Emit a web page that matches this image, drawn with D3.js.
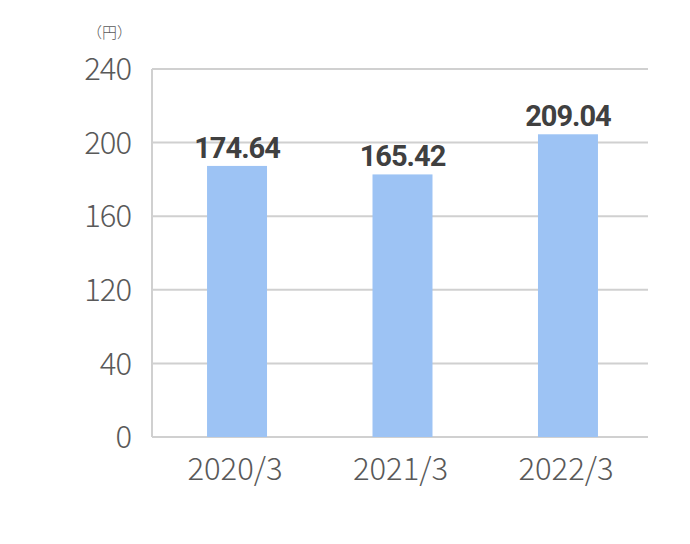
<!DOCTYPE html>
<html>
<head>
<meta charset="utf-8">
<script src="https://cdn.jsdelivr.net/npm/d3@7"></script>
<style>
  body { margin: 0; background: #fff; }
  .tick-label { font-family: "Noto Sans CJK JP", "Noto Sans", sans-serif; font-weight: 300; fill: #595959; }
  .value-label { font-family: Roboto, "Noto Sans", sans-serif; font-weight: 700; fill: #404040; }
</style>
</head>
<body>
<svg id="chart" width="690" height="544"></svg>
<script>
// chart data
let years = ["2020/3", "2021/3", "2022/3"]
let values = [174.64, 165.42, 209.04]
let yTickLabels = ["0", "40", "120", "160", "200", "240"]
let unitLabel = "（円）"

let plot = { left: 152, right: 648, top: 69, bottom: 437 }

let svg = d3.select("#chart")

// x scale
let xScale = d3.scaleBand()
    .domain(years)
    .range([157.4, 647.6])
    .paddingInner(0.6375)
    .paddingOuter(0.3)

// gridlines are evenly spaced, labelled from the tick list
let gridScale = d3.scalePoint()
    .domain(yTickLabels)
    .range([plot.bottom, plot.top])

// bar heights as drawn in the picture
let yScale = d3.scaleLinear()
    .domain([-120, 280])
    .range([plot.bottom, plot.top])

// gridlines
svg.append("g")
    .selectAll("line")
    .data(yTickLabels)
    .join("line")
    .attr("x1", plot.left)
    .attr("x2", plot.right)
    .attr("y1", d => gridScale(d))
    .attr("y2", d => gridScale(d))
    .attr("stroke", "#d0d0d0")
    .attr("stroke-width", 2)

// left axis line
svg.append("line")
    .attr("x1", plot.left).attr("x2", plot.left)
    .attr("y1", plot.top).attr("y2", plot.bottom)
    .attr("stroke", "#d0d0d0")
    .attr("stroke-width", 2)

// y tick labels
svg.append("g")
    .selectAll("text")
    .data(yTickLabels)
    .join("text")
    .attr("class", "tick-label")
    .attr("x", 131)
    .attr("y", d => gridScale(d))
    .attr("dy", "0.36em")
    .attr("text-anchor", "end")
    .style("font-size", "31px")
    .style("letter-spacing", "-1px")
    .text(d => d)

// unit label
svg.append("text")
    .attr("class", "tick-label")
    .attr("x", 132)
    .attr("y", 33)
    .attr("dy", "0.36em")
    .attr("text-anchor", "end")
    .style("font-size", "15px")
    .style("fill", "#595959")
    .text(unitLabel)

// bars
svg.append("g")
    .selectAll("rect")
    .data(values)
    .join("rect")
    .attr("x", (d, i) => xScale(years[i]))
    .attr("width", xScale.bandwidth())
    .attr("y", d => yScale(d))
    .attr("height", d => plot.bottom - yScale(d))
    .attr("fill", "#9dc3f4")

// value labels
svg.append("g")
    .selectAll("text")
    .data(values)
    .join("text")
    .attr("class", "value-label")
    .attr("x", (d, i) => xScale(years[i]) + xScale.bandwidth() / 2)
    .attr("y", d => yScale(d) - 8)
    .attr("text-anchor", "middle")
    .style("font-size", "29px")
    .style("letter-spacing", "-1px")
    .text(d => d.toFixed(2))

// x labels
svg.append("g")
    .selectAll("text")
    .data(years)
    .join("text")
    .attr("class", "tick-label")
    .attr("x", d => xScale(d) + xScale.bandwidth() / 2 - 2)
    .attr("y", 469)
    .attr("dy", "0.36em")
    .attr("text-anchor", "middle")
    .style("font-size", "31px")
    .text(d => d)
</script>
</body>
</html>
